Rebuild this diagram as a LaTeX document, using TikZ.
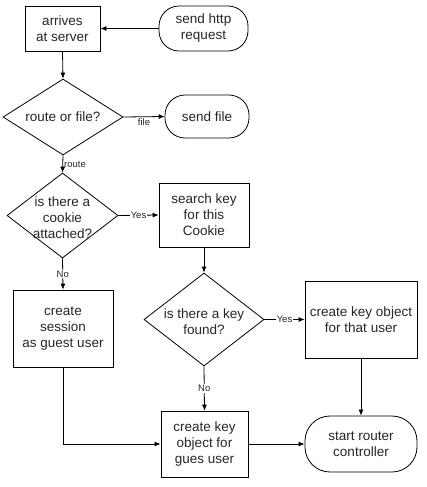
\documentclass[tikz,border=0pt]{standalone}
\usepackage{fontspec}
\setmainfont{Liberation Sans}
\usepackage{tikz}
\usetikzlibrary{positioning, arrows.meta, shapes.geometric}

\begin{document}
\begin{tikzpicture}[x=1pt, y=-1pt,
  every node/.style={font=\fontsize{13.5}{16}\selectfont, text=black!85},
  box/.style={draw, line width=0.8pt, align=center, inner sep=0pt},
  term/.style={box, rounded corners=20pt},
  decision/.style={draw, diamond, line width=0.8pt, inner sep=0pt},
  flow/.style={-{Latex[length=6pt,width=5pt]}, line width=0.8pt},
  tag/.style={font=\fontsize{9.5}{11}\selectfont, inner sep=1pt}]
\useasboundingbox (0,0) rectangle (426,487);

% request comes in
\node[box, minimum width=75pt, minimum height=45pt] (arrive) at (62.5,28.5) {arrives\\at server};
\node[term, minimum width=89pt, minimum height=45pt] (http) at (203.5,28.5) {send http\\request};
\draw[flow] (http.west) -- (arrive.east);

% route or file
\node[decision, minimum width=120pt, minimum height=76pt] (route) at (63,117) {};
\node[align=center, inner sep=0pt] (routetxt) at (route) {route or file?};
\node[term, minimum width=84pt, minimum height=43pt] (sendfile) at (207,116.5) {send file};
\draw[flow] (arrive.south) -- (route.north);
\draw[flow] (route.east) -- node[tag, below] {file} (sendfile.west);

% cookie check
\node[decision, minimum width=111pt, minimum height=85pt] (cookie) at (62.5,215.5) {};
\node[align=center, inner sep=0pt] (cookietxt) at ([yshift=-2pt]cookie) {is there a\\cookie\\attached?};
\node[box, minimum width=90pt, minimum height=64pt] (search) at (204,215) {search key\\for this\\Cookie};
\draw[flow] (route.south) -- node[tag, right] {route} (cookie.north);
\draw[flow] (cookie.east) -- node[tag, fill=white] {Yes} (search.west);

% guest session
\node[box, minimum width=100pt, minimum height=77pt] (session) at (63,328.5) {create\\session\\as guest user};
\draw[flow] (cookie.south) -- node[tag, fill=white] {No} (session.north);

% key lookup
\node[decision, minimum width=120pt, minimum height=93pt] (key) at (204,319.5) {};
\node[align=center, inner sep=0pt] (keytxt) at ([yshift=-2pt]key) {is there a key\\found?};
\node[box, minimum width=112pt, minimum height=77pt] (keyuser) at (361,319.5) {create key object\\for that user};
\draw[flow] (search.south) -- (key.north);
\draw[flow] (key.east) -- node[tag, fill=white] {Yes} (keyuser.west);

% key objects and router
\node[box, minimum width=87pt, minimum height=66pt] (guest) at (204.5,444) {create key\\object for\\gues user};
\node[term, rounded corners=25pt, minimum width=112pt, minimum height=56pt] (router) at (361,444) {start router\\controller};
\draw[flow] (key.south) -- node[tag, fill=white] {No} (guest.north);
\draw[flow] (session.south) |- (guest.west);
\draw[flow] (keyuser.south) -- (router.north);
\draw[flow] (guest.east) -- (router.west);
\end{tikzpicture}
\end{document}
